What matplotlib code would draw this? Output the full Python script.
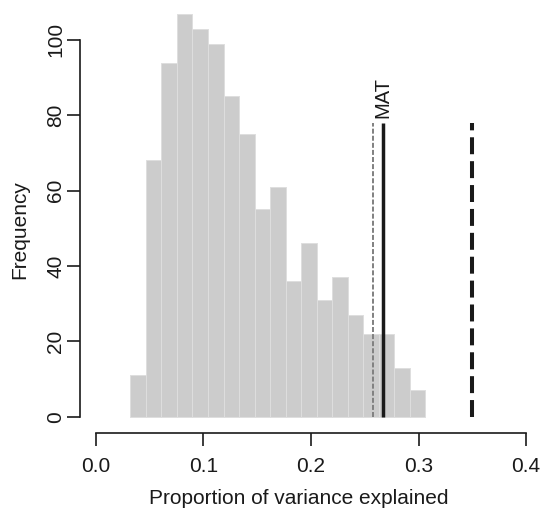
import numpy as np
import matplotlib
matplotlib.use("Agg")
import matplotlib.pyplot as plt

plt.rcParams['font.family'] = ['Liberation Sans', 'DejaVu Sans']
plt.rcParams['lines.scale_dashes'] = False

# Histogram data
bin_edges = [0.0322, 0.0466, 0.0611, 0.0755, 0.0899, 0.1044, 0.1188, 0.1332,
             0.1476, 0.1621, 0.1765, 0.1909, 0.2054, 0.2198, 0.2342, 0.2486,
             0.2631, 0.2775, 0.2919, 0.3063]
counts = [11, 68, 94, 107, 103, 99, 85, 75, 55, 61, 36, 46, 31, 37, 27, 22, 22, 13, 7]

# Reference lines
null_line_x = 0.258      # thin grey dashed
mat_x = 0.2667           # solid black (MAT)
upper_x = 0.35           # thick black dashed
line_top = 78
mat_label = "MAT"

x_ticks = [0.0, 0.1, 0.2, 0.3, 0.4]
x_ticklabels = ["0.0", "0.1", "0.2", "0.3", "0.4"]
y_ticks = [0, 20, 40, 60, 80, 100]

W, H = 544, 511
fig = plt.figure(figsize=(W / 100, H / 100), dpi=100)
ax = fig.add_axes([80 / W, (H - 433.3) / H, 461.7 / W, 433.3 / H])

lefts = np.array(bin_edges[:-1])
widths = np.diff(bin_edges)
ax.bar(lefts, counts, width=widths, align='edge', color='#CCCCCC',
       edgecolor='#DEDEDE', linewidth=0.7, zorder=1)

ax.plot([null_line_x, null_line_x], [0, line_top], color='#808080', lw=1.4,
        dashes=(3.6, 1.5), zorder=3)
ax.plot([mat_x, mat_x], [0, line_top], color='#1A1A1A', lw=2.5, zorder=3,
        solid_capstyle='butt')
ax.plot([upper_x, upper_x], [0, line_top], color='#1A1A1A', lw=2.9,
        dashes=(12.2, 5.0), zorder=3)
ax.text(mat_x, 79.2, mat_label, rotation=90, ha='center', va='bottom',
        fontsize=14.5, color='#1A1A1A')

ax.set_xlim(-0.0146, 0.4145)
ax.set_ylim(-4.41, 110.6)

for s in ['top', 'right']:
    ax.spines[s].set_visible(False)
ax.spines['left'].set_bounds(0, 100)
ax.spines['bottom'].set_bounds(0, 0.4)
for s in ['left', 'bottom']:
    ax.spines[s].set_linewidth(1.2)
    ax.spines[s].set_color('#1A1A1A')

ax.set_xticks(x_ticks)
ax.set_xticklabels(x_ticklabels)
ax.set_yticks(y_ticks)
ax.set_yticklabels([str(v) for v in y_ticks], rotation=90, va='center')
ax.tick_params(axis='both', length=9.1, width=1.2, color='#1A1A1A',
               labelsize=15, labelcolor='#1A1A1A')
ax.tick_params(axis='x', pad=8.0)
ax.tick_params(axis='y', pad=1.5)

fig.text(298.8 / W, (H - 498) / H, "Proportion of variance explained",
         ha='center', va='center', fontsize=15, color='#1A1A1A')
fig.text(20 / W, (H - 230) / H, "Frequency", rotation=90,
         ha='center', va='center', fontsize=15, color='#1A1A1A')

fig.savefig("out.png", dpi=100)
